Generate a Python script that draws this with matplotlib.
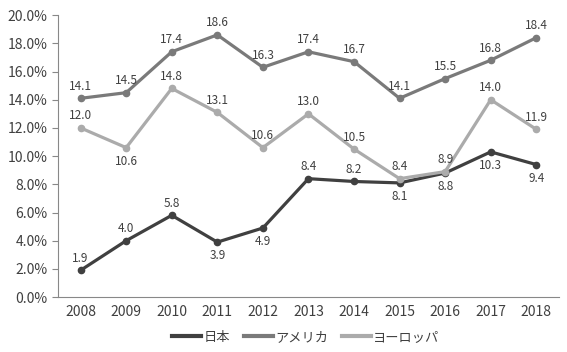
import numpy as np
import matplotlib.pyplot as plt
from matplotlib.lines import Line2D

plt.rcParams['font.family'] = ['Noto Sans CJK JP', 'DejaVu Sans']

# data
years = ['2008', '2009', '2010', '2011', '2012', '2013', '2014', '2015', '2016', '2017', '2018']
japan = [1.9, 4.0, 5.8, 3.9, 4.9, 8.4, 8.2, 8.1, 8.8, 10.3, 9.4]
america = [14.1, 14.5, 17.4, 18.6, 16.3, 17.4, 16.7, 14.1, 15.5, 16.8, 18.4]
europe = [12.0, 10.6, 14.8, 13.1, 10.6, 13.0, 10.5, 8.4, 8.9, 14.0, 11.9]
series_names = ['日本', 'アメリカ', 'ヨーロッパ']

# which labels sit below the point
below = {
    '日本': [3, 4, 7, 8, 9, 10],
    'アメリカ': [],
    'ヨーロッパ': [1],
}

colors = ['#404040', '#7a7a7a', '#ababab']

fig = plt.figure(figsize=(5.67, 3.52), dpi=100)
ax = fig.add_axes([0.102, 0.156, 0.884, 0.801])

x = np.arange(len(years))
for name, vals, c in zip(series_names, [japan, america, europe], colors):
    ax.plot(x, vals, color=c, linewidth=2.3, marker='o', markersize=4.5)
    for i, v in enumerate(vals):
        if i in below[name]:
            ax.annotate(f'{v:.1f}', (i, v), xytext=(0, -5), textcoords='offset points',
                        ha='center', va='top', fontsize=8.5, color='#404040')
        else:
            ax.annotate(f'{v:.1f}', (i, v), xytext=(0, 4), textcoords='offset points',
                        ha='center', va='bottom', fontsize=8.5, color='#404040')

ax.set_xlim(-0.5, len(years) - 0.5)
ax.set_ylim(0, 20)
ax.set_yticks(np.arange(0, 20.1, 2))
ax.set_yticklabels([f'{t:.1f}%' for t in np.arange(0, 20.1, 2)])
ax.set_xticks(x)
ax.set_xticklabels(years)
ax.tick_params(axis='x', length=0, pad=6, labelsize=10, colors='#404040')
ax.tick_params(axis='y', length=4, color='#888888', labelsize=10, colors='#404040')
for s in ['top', 'right']:
    ax.spines[s].set_visible(False)
ax.spines['left'].set_color('#888888')
ax.spines['bottom'].set_color('#888888')

# legend, lines only
handles = [Line2D([0], [0], color=c, linewidth=3) for c in colors]
ax.legend(handles, series_names, loc='center', bbox_to_anchor=(0.495, -0.142), ncol=3,
          frameon=False, fontsize=9.5, handlelength=2.2, columnspacing=1.0,
          handletextpad=0.2, labelcolor='#404040')

fig.savefig('out.png', dpi=100)
